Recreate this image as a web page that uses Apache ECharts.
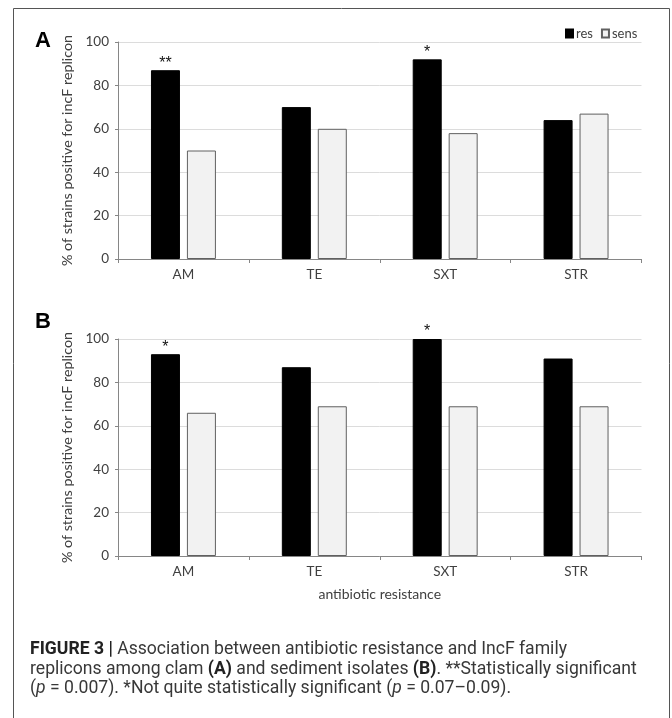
<!DOCTYPE html>
<html>
<head>
<meta charset="utf-8">
<script src="https://cdn.jsdelivr.net/npm/echarts@6/dist/echarts.min.js"></script>
<style>
  html, body { margin: 0; padding: 0; background: #fff; }
  #chart { width: 672px; height: 718px; }
</style>
</head>
<body>
<div id="chart"></div>
<script>
const categories = ['AM', 'TE', 'SXT', 'STR'];
const resA = [87, 70, 92, 64];
const sensA = [50, 60, 58, 67];
const resB = [93, 87, 100, 91];
const sensB = [66, 69, 69, 69];
const sigA = ['**', '', '*', ''];
const sigB = ['*', '', '*', ''];
const yAxisTitle = '% of strains positive for incF replicon';
const xAxisTitle = 'antibiotic resistance';
const captionLines = [
  '{b|FIGURE 3 |} Association between antibiotic resistance and IncF family',
  'replicons among clam {b|(A)} and sediment isolates {b|(B)}. **Statistically significant',
  '({i|p} = 0.007). *Not quite statistically significant ({i|p} = 0.07\u20130.09).'
];

const FONT = 'Lato, "Open Sans", sans-serif';
const axisGray = '#868686';
const labelColor = '#404040';
const CAP = '"Roboto", sans-serif';

function xAx(gridIndex, withName) {
  return {
    type: 'category', gridIndex, data: categories,
    axisLine: { lineStyle: { color: axisGray } },
    axisTick: { show: true, length: 4, lineStyle: { color: axisGray } },
    axisLabel: { color: labelColor, fontSize: 13.5, fontFamily: FONT, margin: 9 },
    name: withName ? xAxisTitle : '',
    nameLocation: 'middle', nameGap: 31,
    nameTextStyle: { color: labelColor, fontSize: 14, fontFamily: FONT }
  };
}
function yAx(gridIndex) {
  return {
    type: 'value', gridIndex, min: 0, max: 100, interval: 20,
    axisLine: { show: true, lineStyle: { color: axisGray } },
    axisTick: { show: true, length: 3, lineStyle: { color: axisGray } },
    axisLabel: { color: labelColor, fontSize: 13.5, fontFamily: FONT, margin: 9 },
    splitLine: { lineStyle: { color: '#dcdcdc' } },
    name: yAxisTitle, nameLocation: 'middle', nameRotate: 90, nameGap: 38,
    nameTextStyle: { color: labelColor, fontSize: 14.3, fontFamily: FONT }
  };
}
function sigLabel(arr) {
  return {
    show: true, position: 'top', distance: -1,
    formatter: p => arr[p.dataIndex], color: '#111', fontSize: 16,
    fontFamily: '"Liberation Sans", Arial, sans-serif'
  };
}
const resStyle = { color: '#000', borderColor: '#000', borderWidth: 1 };
const sensStyle = { color: '#f2f2f2', borderColor: '#606060', borderWidth: 1 };

const chart = echarts.init(document.getElementById('chart'), null, { renderer: 'canvas' });
chart.setOption({
  animation: false,
  backgroundColor: '#fff',
  legend: {
    left: 560, top: 22, itemWidth: 7, itemHeight: 8, itemGap: 8,
    icon: 'rect',
    textStyle: { color: labelColor, fontSize: 13, fontFamily: FONT, padding: [0, 0, 0, -2] },
    data: ['res', 'sens']
  },
  grid: [
    { left: 118, right: 30.5, top: 42, height: 217 },
    { left: 118, right: 30.5, top: 339, height: 217 }
  ],
  xAxis: [xAx(0, false), xAx(1, true)],
  yAxis: [yAx(0), yAx(1)],
  series: [
    { name: 'res', type: 'bar', xAxisIndex: 0, yAxisIndex: 0, data: resA, barWidth: 29, barGap: '24%', itemStyle: resStyle, label: sigLabel(sigA) },
    { name: 'sens', type: 'bar', xAxisIndex: 0, yAxisIndex: 0, data: sensA, barWidth: 29, barGap: '24%', itemStyle: sensStyle },
    { name: 'res', type: 'bar', xAxisIndex: 1, yAxisIndex: 1, data: resB, barWidth: 29, barGap: '24%', itemStyle: resStyle, label: sigLabel(sigB) },
    { name: 'sens', type: 'bar', xAxisIndex: 1, yAxisIndex: 1, data: sensB, barWidth: 29, barGap: '24%', itemStyle: sensStyle }
  ],
  graphic: [
    { type: 'rect', shape: { x: 13.5, y: 8.5, width: 656, height: 760 }, style: { fill: 'none', stroke: '#555', lineWidth: 1 }, silent: true },
    { type: 'text', x: 35, y: 30, style: { text: 'A', font: 'bold 22px "Liberation Sans", Arial, sans-serif', fill: '#000' } },
    { type: 'text', x: 35, y: 311, style: { text: 'B', font: 'bold 22px "Liberation Sans", Arial, sans-serif', fill: '#000' } },
    ...captionLines.map((t, i) => ({
      type: 'text', x: 30, y: 650 + i * 19.5,
      style: {
        text: t, fill: '#383838', verticalAlign: 'middle',
        font: '17.6px ' + CAP,
        rich: {
          b: { font: 'bold 17.6px ' + CAP, fill: '#222' },
          i: { font: 'italic 17.6px ' + CAP, fill: '#383838' }
        }
      }
    }))
  ]
});
</script>
</body>
</html>
